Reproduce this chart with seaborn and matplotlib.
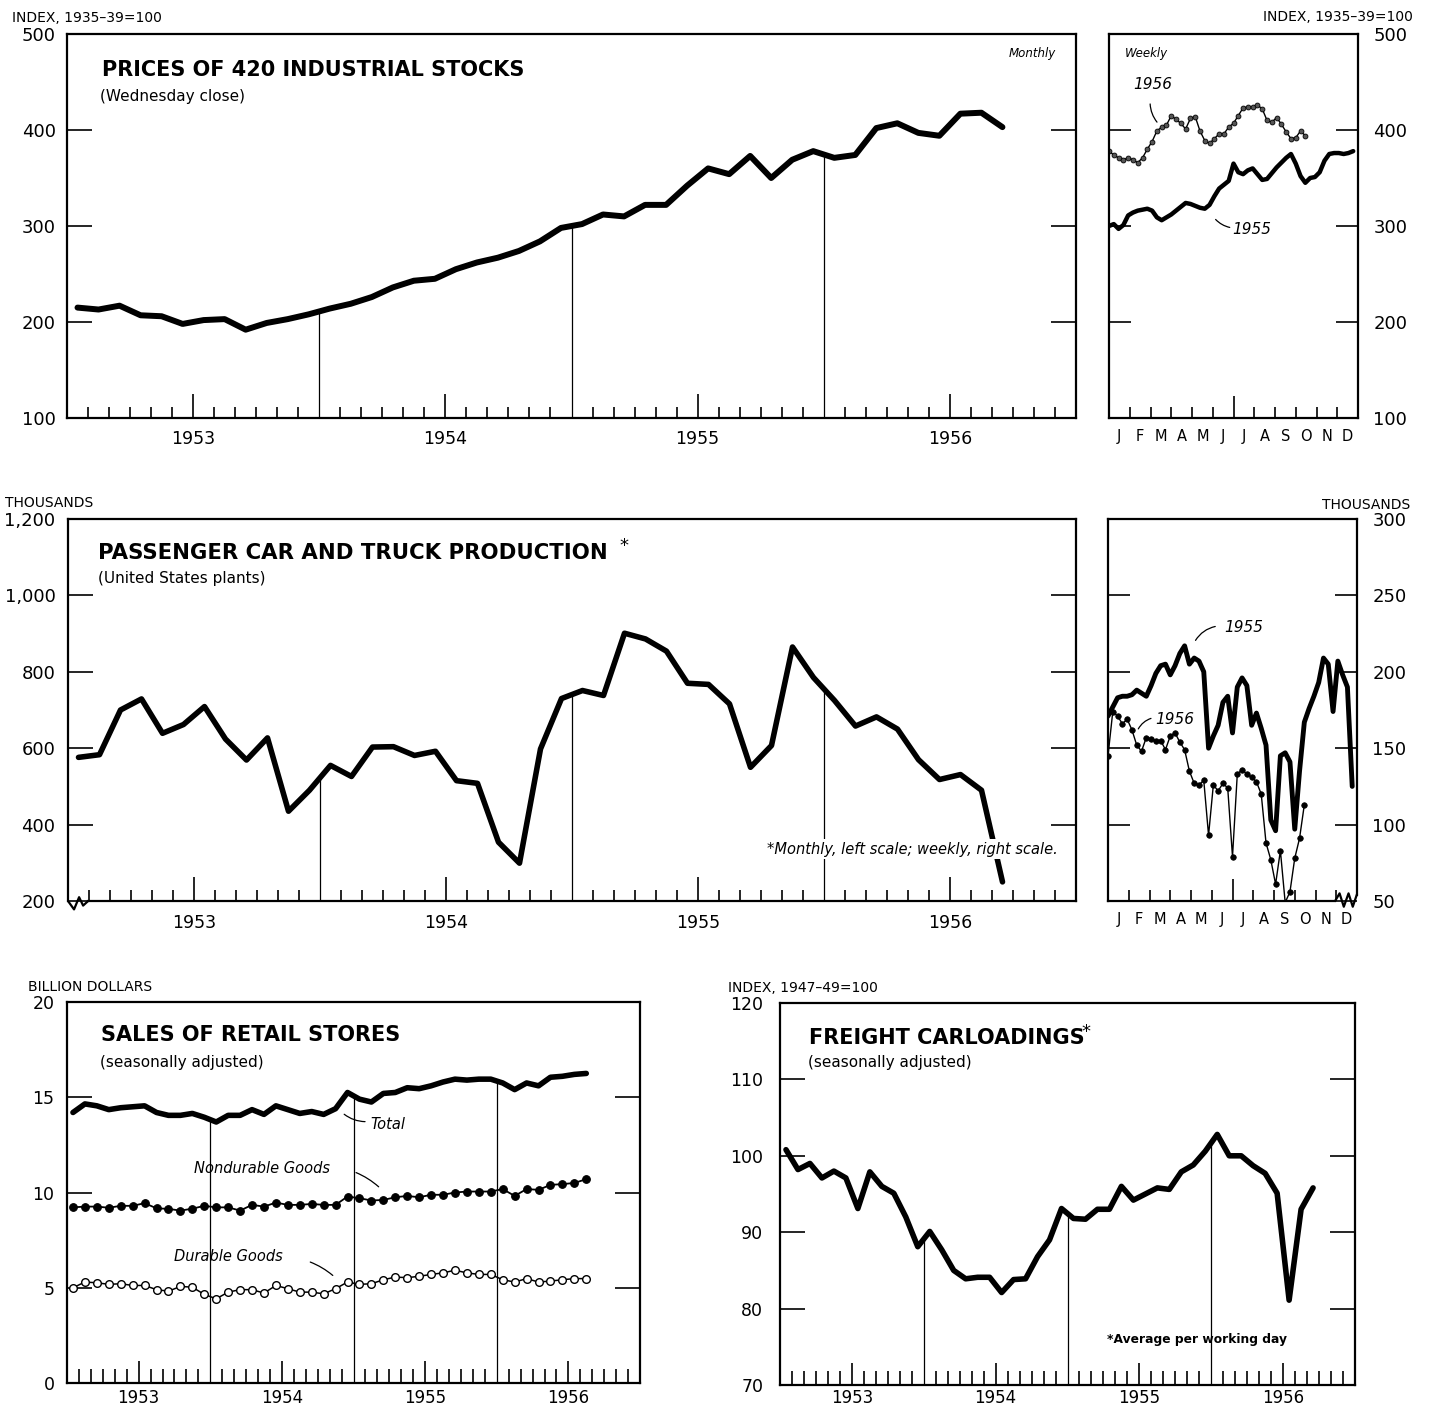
import numpy as np
import seaborn as sns
import matplotlib.pyplot as plt

sns.set_style("white")
plt.rcParams['font.family'] = ['DejaVu Sans']
for key in ['text.color', 'axes.labelcolor', 'xtick.color', 'ytick.color', 'axes.edgecolor']:
    plt.rcParams[key] = 'black'
HEAD = ['Liberation Sans Narrow', 'DejaVu Sans']

# monthly series, Jan 1953 onward (one value per month)
stocks = [215, 213, 217, 207, 206, 198, 202, 203, 192, 199, 203, 208,
          214, 219, 226, 236, 243, 245, 255, 262, 267, 274, 284, 298,
          302, 312, 310, 322, 322, 342, 360, 354, 373, 350, 369, 378,
          371, 374, 402, 407, 397, 394, 417, 418, 403]
cars = [576, 583, 700, 729, 639, 662, 709, 624, 569, 627, 435, 490,
        555, 526, 603, 604, 581, 592, 515, 508, 354, 299, 598, 730,
        751, 738, 901, 886, 854, 770, 767, 716, 550, 607, 865, 785,
        725, 658, 682, 650, 570, 518, 531, 490, 250]
retail_total = [14.2, 14.65, 14.55, 14.35, 14.45, 14.5, 14.55, 14.2, 14.05, 14.05, 14.15, 13.95,
                13.7, 14.05, 14.05, 14.35, 14.1, 14.55, 14.35, 14.15, 14.25, 14.1, 14.4, 15.25,
                14.9, 14.75, 15.2, 15.25, 15.5, 15.45, 15.6, 15.8, 15.95, 15.9, 15.95, 15.95,
                15.75, 15.4, 15.75, 15.6, 16.05, 16.1, 16.2, 16.25]
retail_nondur = [9.22, 9.26, 9.26, 9.2, 9.3, 9.3, 9.44, 9.17, 9.14, 9.05, 9.15, 9.3,
                 9.22, 9.22, 9.05, 9.35, 9.26, 9.47, 9.35, 9.35, 9.4, 9.35, 9.35, 9.79,
                 9.7, 9.58, 9.61, 9.75, 9.82, 9.75, 9.88, 9.88, 10.0, 10.05, 10.05, 10.05,
                 10.18, 9.82, 10.18, 10.14, 10.4, 10.44, 10.5, 10.7]
retail_dur = [5.0, 5.3, 5.26, 5.18, 5.21, 5.12, 5.12, 4.9, 4.82, 5.07, 5.03, 4.65,
              4.42, 4.77, 4.9, 4.9, 4.72, 5.12, 4.95, 4.77, 4.77, 4.68, 4.95, 5.3,
              5.18, 5.21, 5.42, 5.56, 5.53, 5.6, 5.7, 5.78, 5.92, 5.78, 5.7, 5.7,
              5.42, 5.3, 5.48, 5.3, 5.35, 5.42, 5.48, 5.48]
freight = [100.8, 98.2, 99.0, 97.1, 98.0, 97.1, 93.1, 97.9, 96.0, 95.1, 92.0, 88.1,
           90.1, 87.7, 85.0, 83.9, 84.1, 84.1, 82.1, 83.8, 83.9, 86.8, 89.0, 93.1,
           91.8, 91.7, 93.0, 93.0, 96.0, 94.2, 95.0, 95.8, 95.6, 97.9, 98.8, 100.6,
           102.8, 100.0, 100.0, 98.7, 97.7, 95.1, 81.1, 93.0, 95.8]

# weekly series (week 0 = first week of January)
stocks_wk55 = [300, 302, 297, 301, 311, 314, 316, 317, 318, 316, 309, 306, 309, 312, 316, 320,
               324, 323, 321, 319, 318, 322, 331, 339, 343, 347, 365, 356, 354, 358, 360, 354,
               348, 349, 355, 361, 366, 371, 375, 365, 352, 345, 350, 351, 356, 368, 375, 376,
               376, 375, 376, 378]
stocks_wk56 = [378, 374, 371, 369, 371, 369, 366, 371, 380, 388, 399, 403, 405, 415, 411, 407,
               401, 412, 414, 399, 389, 386, 391, 396, 396, 403, 407, 415, 423, 424, 424, 426,
               422, 410, 408, 413, 406, 398, 391, 392, 399, 394]
cars_wk55 = [171, 177, 183, 184, 184, 185, 188, 186, 184, 191, 199, 204, 205, 198, 204, 212,
             217, 205, 209, 207, 200, 150, 158, 165, 180, 184, 160, 190, 196, 191, 165, 173,
             163, 152, 103, 96, 145, 147, 141, 97, 135, 167, 176, 184, 193, 209, 205, 174,
             207, 198, 190, 125]
cars_wk56 = [145, 174, 171, 166, 169, 162, 152, 148, 157, 156, 155, 155, 149, 158, 160, 154,
             149, 135, 127, 126, 129, 93, 126, 122, 127, 124, 79, 133, 136, 133, 131, 128,
             120, 88, 77, 61, 83, 49, 56, 78, 91, 113]

years = [1953, 1954, 1955, 1956]
months = list('JFMAMJJASOND')


def mx(vals):
    return 1953 + (np.arange(len(vals)) + 0.5) / 12


def wx(vals):
    return np.arange(len(vals)) * 12 / 52


W, H = 1430, 1409
fig = plt.figure(figsize=(W / 100, H / 100), dpi=100)


def box(l, t, r, b):
    return fig.add_axes([l / W, 1 - b / H, (r - l) / W, (b - t) / H])


def style_common(ax):
    for s in ax.spines.values():
        s.set_color('k')
        s.set_linewidth(1.6)


def month_axis(ax, ylim, yticks, ylabels, ysize=13, ypad=8, small=8, big=17, xsize=12.5, xpad=9):
    ax.set_xlim(1953, 1957)
    ax.set_ylim(ylim)
    ax.set_xticks([y + 0.5 for y in years], labels=[str(y) for y in years])
    ax.set_xticks([y + m / 12 for y in years for m in range(1, 12) if m != 6], minor=True)
    ax.tick_params(axis='x', which='major', direction='in', bottom=True, length=big,
                   width=1.2, labelsize=xsize, pad=xpad)
    ax.tick_params(axis='x', which='minor', direction='in', bottom=True, length=small, width=1.2)
    ax.set_yticks(yticks, labels=ylabels)
    ax.tick_params(axis='y', direction='in', left=True, right=True, length=18, width=1.2,
                   labelsize=ysize, pad=ypad)
    ax.set_xlabel('')
    ax.set_ylabel('')
    style_common(ax)


def week_axis(ax, ylim, yticks, ylabels):
    ax.set_xlim(0, 12)
    ax.set_ylim(ylim)
    ax.set_xticks([6], labels=[''])
    ax.set_xticks([m for m in range(1, 12) if m != 6], minor=True)
    ax.tick_params(axis='x', which='major', direction='in', bottom=True, length=16, width=1.2)
    ax.tick_params(axis='x', which='minor', direction='in', bottom=True, length=8, width=1.2)
    ax.set_yticks(yticks, labels=ylabels)
    ax.tick_params(axis='y', direction='in', left=True, right=True, labelleft=False,
                   labelright=True, length=16, width=1.2, labelsize=13, pad=11)
    sec = ax.secondary_xaxis('bottom')
    sec.set_xticks(np.arange(0.5, 12), labels=months)
    sec.tick_params(length=0, labelsize=10.5, pad=8)
    for s in sec.spines.values():
        s.set_visible(False)
    ax.set_xlabel('')
    ax.set_ylabel('')
    style_common(ax)


def year_lines(ax, x, y, ymin):
    b = np.array([1954, 1955, 1956])
    ax.vlines(b, ymin, np.interp(b, x, y), color='k', lw=0.9, zorder=1)


def leader(ax, p0, p1, rad=0.25):
    ax.annotate('', xy=p1, xytext=p0,
                arrowprops=dict(arrowstyle='-', lw=0.9, color='k',
                                connectionstyle='arc3,rad=%s' % rad))


# ---- stock prices, monthly
ax1 = box(67, 34, 1076, 418)
sns.lineplot(x=mx(stocks), y=stocks, ax=ax1, color='k', linewidth=4.3, solid_capstyle='round')
year_lines(ax1, mx(stocks), stocks, 100)
month_axis(ax1, (100, 500), [100, 200, 300, 400, 500], ['100', '200', '300', '400', '500'])
ax1.text(0.035, 0.906, 'PRICES OF 420 INDUSTRIAL STOCKS', transform=ax1.transAxes,
         family=HEAD, fontweight='bold', fontsize=15, va='center')
ax1.text(0.033, 0.838, '(Wednesday close)', transform=ax1.transAxes,
         family=HEAD, fontsize=11, va='center')
ax1.text(0.98, 0.948, 'Monthly', transform=ax1.transAxes, fontstyle='italic',
         fontsize=8.5, ha='right', va='center')

# ---- stock prices, weekly
ax2 = box(1109, 34, 1358, 418)
sns.lineplot(x=wx(stocks_wk55), y=stocks_wk55, ax=ax2, color='k', linewidth=3.2)
sns.lineplot(x=wx(stocks_wk56), y=stocks_wk56, ax=ax2, color='k', linewidth=1.0,
             marker='o', markersize=3.5, mfc='#555555', mec='k', mew=0.6)
week_axis(ax2, (100, 500), [100, 200, 300, 400, 500], ['100', '200', '300', '400', '500'])
ax2.text(0.065, 0.95, 'Weekly', transform=ax2.transAxes, fontstyle='italic',
         fontsize=8.5, va='center')
ax2.text(2.1, 447, '1956', fontstyle='italic', fontsize=11, ha='center', va='center')
leader(ax2, (1.98, 430), (2.4, 406), rad=0.2)
ax2.text(5.95, 296, '1955', fontstyle='italic', fontsize=11, va='center')
leader(ax2, (5.05, 309), (5.95, 298), rad=0.2)

# ---- car and truck production, monthly
ax3 = box(68, 519, 1076, 901)
sns.lineplot(x=mx(cars), y=cars, ax=ax3, color='k', linewidth=4.0, solid_capstyle='round')
year_lines(ax3, mx(cars), cars, 200)
month_axis(ax3, (200, 1200), [200, 400, 600, 800, 1000, 1200],
           ['200', '400', '600', '800', '1,000', '1,200'], ypad=9)
ax3.spines['bottom'].set_bounds(1953.08, 1957)
ax3.plot([0, 0.006, 0.011, 0.015, 0.02], [0, -0.022, 0.01, -0.012, 0.0], color='k', lw=1.6,
         transform=ax3.transAxes, clip_on=False)
ax3.text(0.03, 0.911, 'PASSENGER CAR AND TRUCK PRODUCTION', transform=ax3.transAxes,
         family=HEAD, fontweight='bold', fontsize=15.3, va='center')
ax3.text(0.547, 0.93, '*', transform=ax3.transAxes, fontsize=13, va='center')
ax3.text(0.03, 0.845, '(United States plants)', transform=ax3.transAxes,
         family=HEAD, fontsize=11, va='center')
ax3.text(0.982, 0.136, '*Monthly, left scale; weekly, right scale.', transform=ax3.transAxes,
         fontstyle='italic', fontsize=10.5, ha='right', va='center', zorder=5,
         bbox=dict(facecolor='white', edgecolor='none', pad=2))

# ---- car and truck production, weekly
ax4 = box(1108, 519, 1357, 901)
sns.lineplot(x=wx(cars_wk55), y=cars_wk55, ax=ax4, color='k', linewidth=3.5)
sns.lineplot(x=wx(cars_wk56), y=cars_wk56, ax=ax4, color='k', linewidth=1.0,
             marker='o', markersize=4, mfc='k', mec='k', mew=0.5)
week_axis(ax4, (50, 300), [50, 100, 150, 200, 250, 300], ['50', '100', '150', '200', '250', '300'])
ax4.spines['bottom'].set_bounds(0, 10.95)
ax4.spines['right'].set_bounds(54, 300)
ax4.plot([0.912, 0.93, 0.947, 0.966, 0.983, 1.0], [0, 0.02, -0.015, 0.02, -0.015, 0.018],
         color='k', lw=1.6, transform=ax4.transAxes, clip_on=False)
ax4.text(5.6, 229, '1955', fontstyle='italic', fontsize=11, va='center')
leader(ax4, (4.15, 219), (5.3, 230), rad=-0.25)
ax4.text(2.3, 169, '1956', fontstyle='italic', fontsize=11, va='center')
leader(ax4, (1.4, 161), (2.2, 170), rad=-0.25)

# ---- retail sales
ax5 = box(67, 1002, 640, 1383)
sns.lineplot(x=mx(retail_total), y=retail_total, ax=ax5, color='k', linewidth=4.0,
             solid_capstyle='round')
sns.lineplot(x=mx(retail_nondur), y=retail_nondur, ax=ax5, color='k', linewidth=1.3,
             marker='o', markersize=5.5, mfc='k', mec='k', mew=0.8)
sns.lineplot(x=mx(retail_dur), y=retail_dur, ax=ax5, color='k', linewidth=1.1,
             marker='o', markersize=5.5, mfc='white', mec='k', mew=1.0)
year_lines(ax5, mx(retail_total), retail_total, 0)
month_axis(ax5, (0, 20), [0, 5, 10, 15, 20], ['0', '5', '10', '15', '20'],
           ysize=12.5, ypad=9, small=10, big=16, xsize=12, xpad=4)
ax5.text(0.059, 0.913, 'SALES OF RETAIL STORES', transform=ax5.transAxes,
         family=HEAD, fontweight='bold', fontsize=15, va='center')
ax5.text(0.057, 0.84, '(seasonally adjusted)', transform=ax5.transAxes,
         family=HEAD, fontsize=11, va='center')
ax5.text(1955.12, 13.58, 'Total', fontstyle='italic', fontsize=10.5, va='center')
leader(ax5, (1954.92, 14.2), (1955.1, 13.72), rad=0.2)
ax5.text(1953.89, 11.26, 'Nondurable Goods', fontstyle='italic', fontsize=10.5, va='center')
leader(ax5, (1955.0, 11.1), (1955.19, 10.2), rad=-0.1)
ax5.text(1953.75, 6.63, 'Durable Goods', fontstyle='italic', fontsize=10.5, va='center')
leader(ax5, (1954.68, 6.4), (1954.87, 5.55), rad=-0.1)

# ---- freight carloadings
ax6 = box(780, 1003, 1355, 1385)
sns.lineplot(x=mx(freight), y=freight, ax=ax6, color='k', linewidth=4.0, solid_capstyle='round')
year_lines(ax6, mx(freight), freight, 70)
month_axis(ax6, (70, 120), [70, 80, 90, 100, 110, 120], ['70', '80', '90', '100', '110', '120'],
           ysize=12.5, ypad=12, small=10, big=16, xsize=12, xpad=3)
ax6.text(0.05, 0.908, 'FREIGHT CARLOADINGS', transform=ax6.transAxes,
         family=HEAD, fontweight='bold', fontsize=15, va='center')
ax6.text(0.525, 0.925, '*', transform=ax6.transAxes, fontsize=13, va='center')
ax6.text(0.048, 0.843, '(seasonally adjusted)', transform=ax6.transAxes,
         family=HEAD, fontsize=11, va='center')
ax6.text(0.569, 0.118, '*Average per working day', transform=ax6.transAxes,
         family=HEAD, fontweight='bold', fontsize=8.8, va='center')

# ---- unit labels
fig.text(12 / W, 1 - 18 / H, 'INDEX, 1935–39=100', fontsize=10, va='center')
fig.text(1413 / W, 1 - 17 / H, 'INDEX, 1935–39=100', fontsize=10, va='center', ha='right')
fig.text(5 / W, 1 - 503 / H, 'THOUSANDS', fontsize=10, va='center')
fig.text(1410 / W, 1 - 505 / H, 'THOUSANDS', fontsize=10, va='center', ha='right')
fig.text(28 / W, 1 - 987 / H, 'BILLION DOLLARS', fontsize=10, va='center')
fig.text(728 / W, 1 - 988 / H, 'INDEX, 1947–49=100', fontsize=10, va='center')

fig.savefig('out.png', dpi=100)
